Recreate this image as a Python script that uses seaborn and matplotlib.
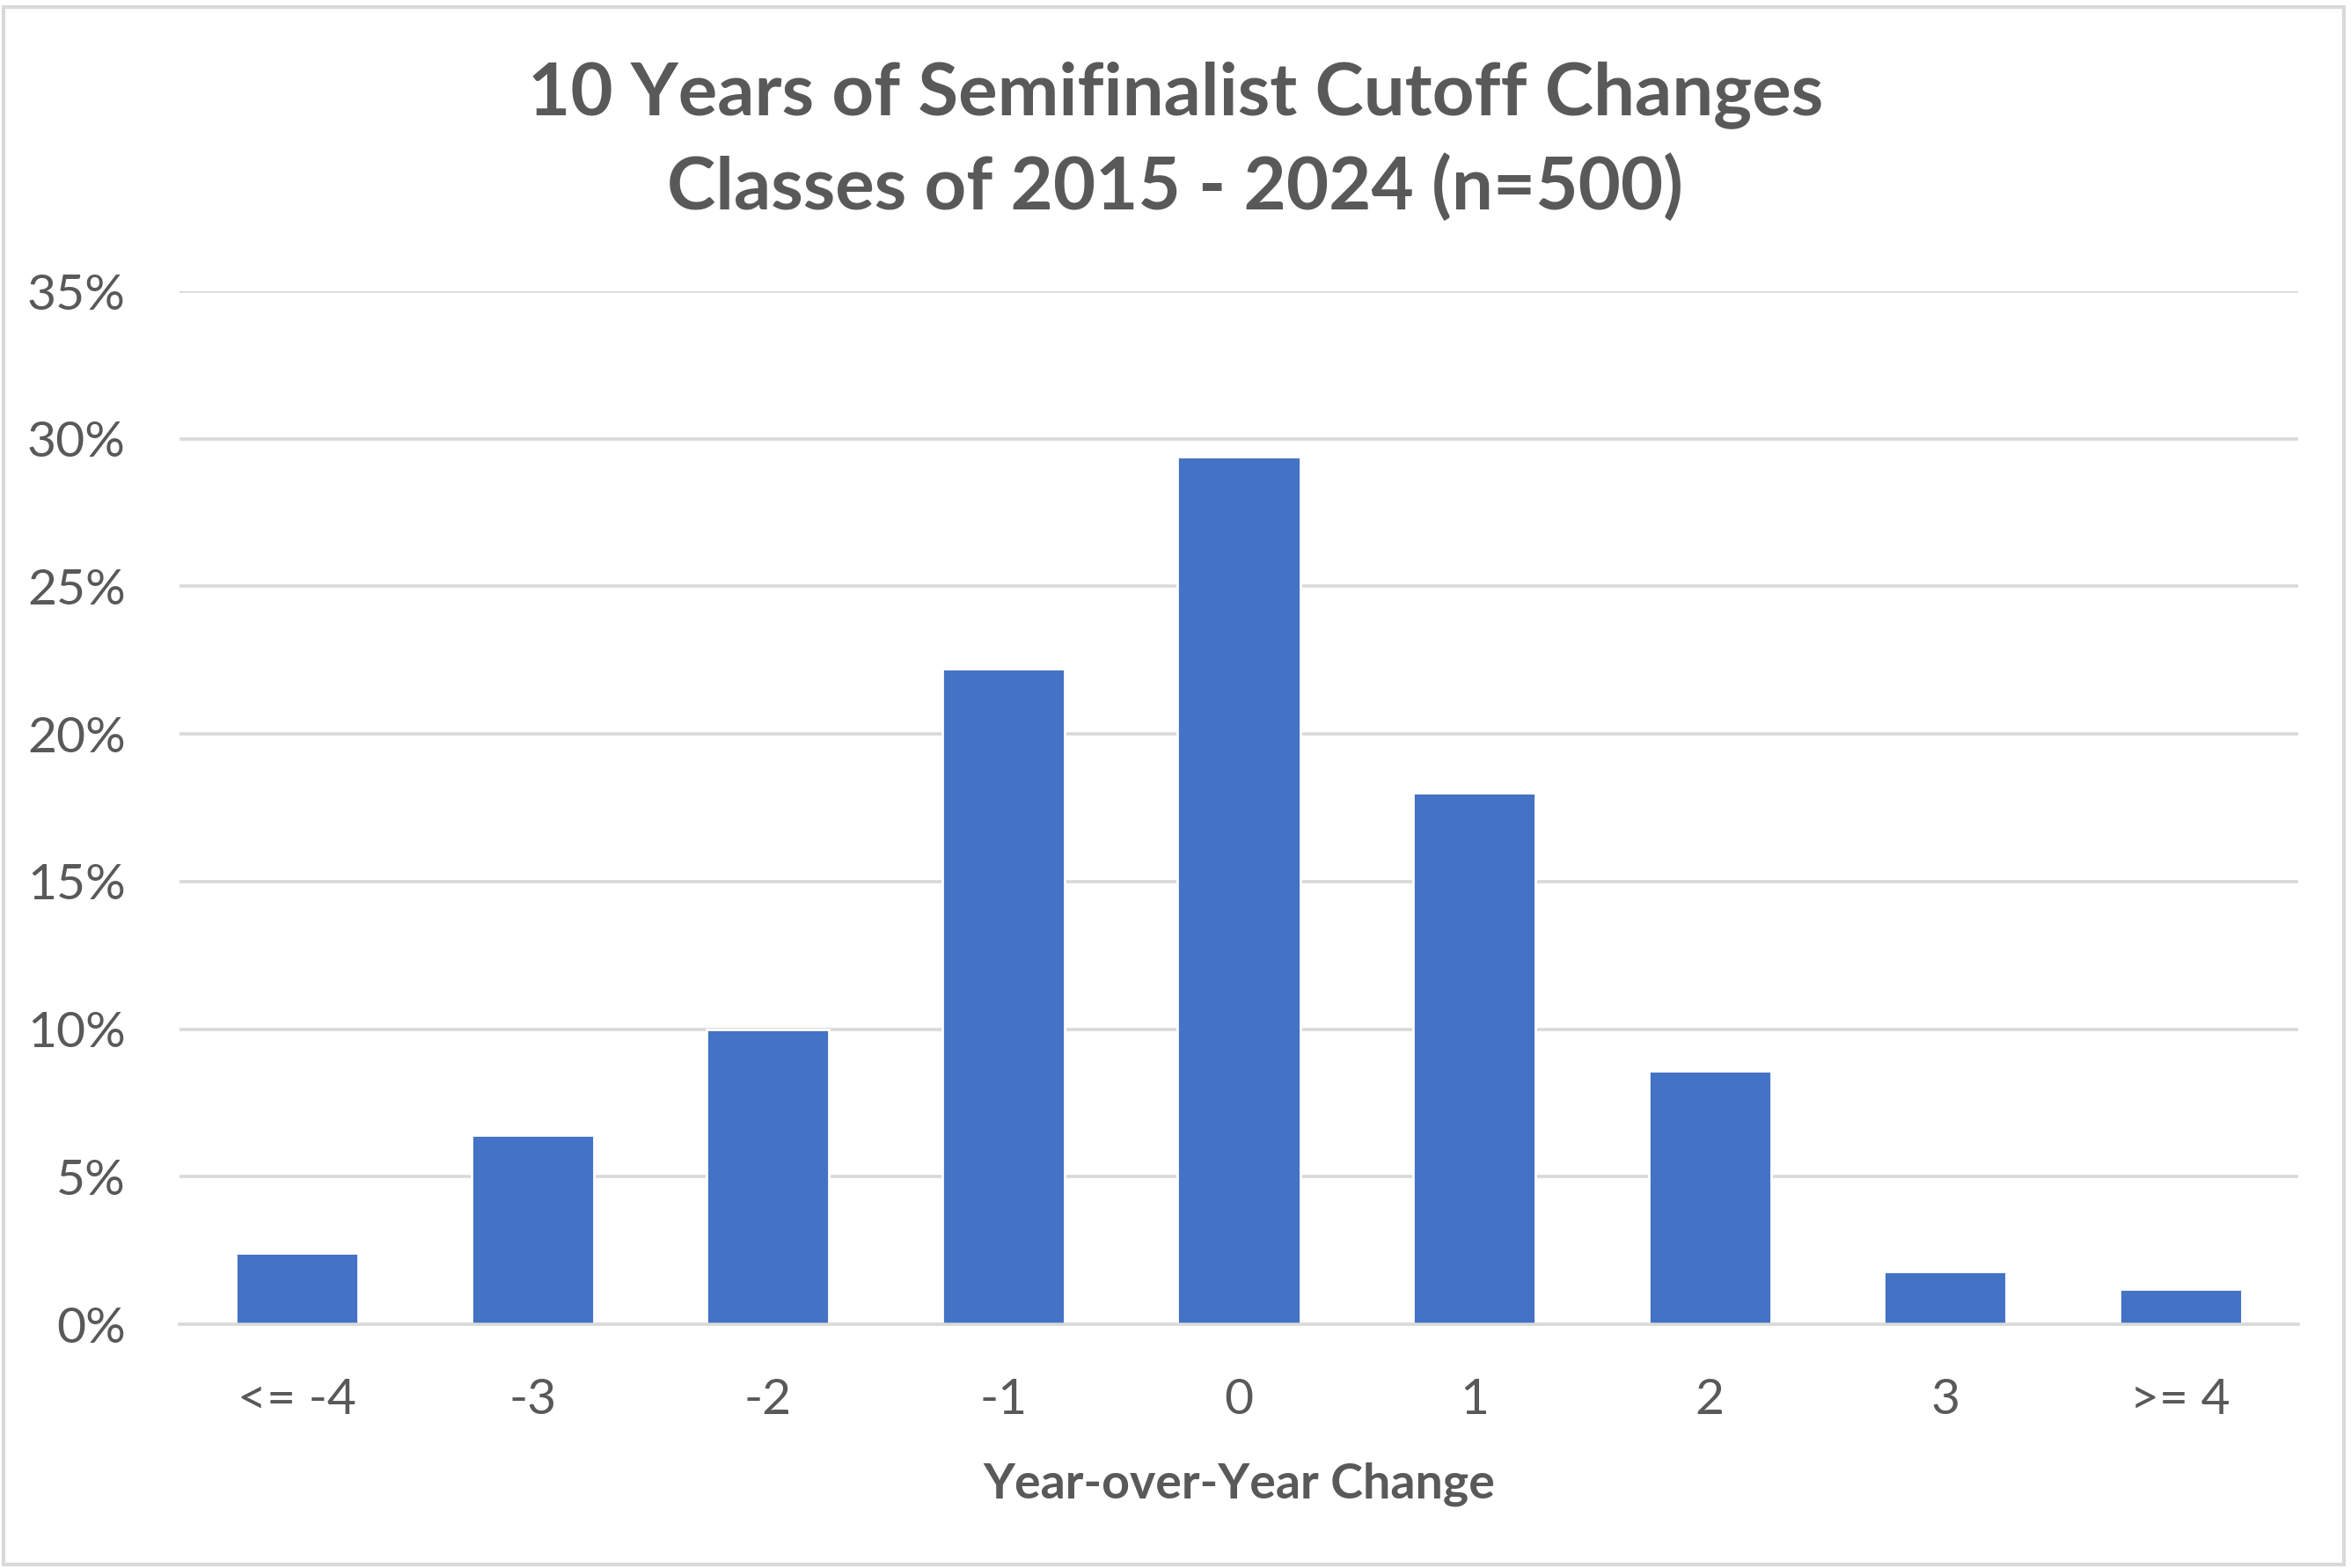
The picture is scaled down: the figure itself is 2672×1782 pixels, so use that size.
import matplotlib
matplotlib.use("Agg")
import matplotlib.pyplot as plt
from matplotlib.patches import Rectangle
from matplotlib.ticker import FuncFormatter
import seaborn as sns
import pandas as pd

categories = ["<= -4", "-3", "-2", "-1", "0", "1", "2", "3", ">= 4"]
shares = [0.024, 0.064, 0.100, 0.222, 0.294, 0.180, 0.086, 0.018, 0.012]
y_ticks = [0.0, 0.05, 0.10, 0.15, 0.20, 0.25, 0.30, 0.35]
title_lines = ["10 Years of Semifinalist Cutoff Changes", "Classes of 2015 - 2024 (n=500)"]
x_label = "Year-over-Year Change"

df = pd.DataFrame({"change": categories, "share": shares})

sns.set_theme(style="white")
plt.rcParams["font.family"] = ["Lato", "DejaVu Sans"]

TXT = "#595959"
GRID = "#D9D9D9"
BAR = "#4472C4"

W, H, DPI = 2672, 1782, 200
fig = plt.figure(figsize=(W / DPI, H / DPI), dpi=DPI)
fig.patch.set_facecolor("white")

ax = fig.add_axes([204 / W, 1 - 1505 / H, (2612 - 204) / W, (1505 - 331) / H])
sns.barplot(data=df, x="change", y="share", color=BAR, width=0.52,
            saturation=1, ax=ax, order=categories)

ax.set_ylim(0, 0.35)
ax.set_xlim(-0.5, len(categories) - 0.5)
ax.set_yticks(y_ticks)
ax.yaxis.set_major_formatter(FuncFormatter(lambda v, p: f"{v*100:.0f}%"))
ax.grid(axis="y", color=GRID, linewidth=1.3)
ax.set_axisbelow(True)
for s in ["top", "right", "left"]:
    ax.spines[s].set_visible(False)
ax.spines["bottom"].set_color(GRID)
ax.spines["bottom"].set_linewidth(1.3)
ax.tick_params(axis="both", length=0, labelsize=20.5, labelcolor=TXT)
ax.tick_params(axis="y", pad=22)
ax.tick_params(axis="x", pad=22)
ax.set_ylabel("")
ax.set_xlabel(x_label, fontsize=20, fontweight="bold", color=TXT, labelpad=16)

fig.text(0.5, 1 - 108 / H, title_lines[0], ha="center", va="center",
         fontsize=30, fontweight="bold", color=TXT)
fig.text(0.5, 1 - 213 / H, title_lines[1], ha="center", va="center",
         fontsize=30, fontweight="bold", color=TXT)

fig.patches.append(Rectangle((4 / W, 4 / H), 1 - 12 / W, 1 - 12 / H,
                             transform=fig.transFigure, fill=False,
                             edgecolor=GRID, linewidth=1.5))

fig.savefig("out.png", dpi=DPI, facecolor="white")
